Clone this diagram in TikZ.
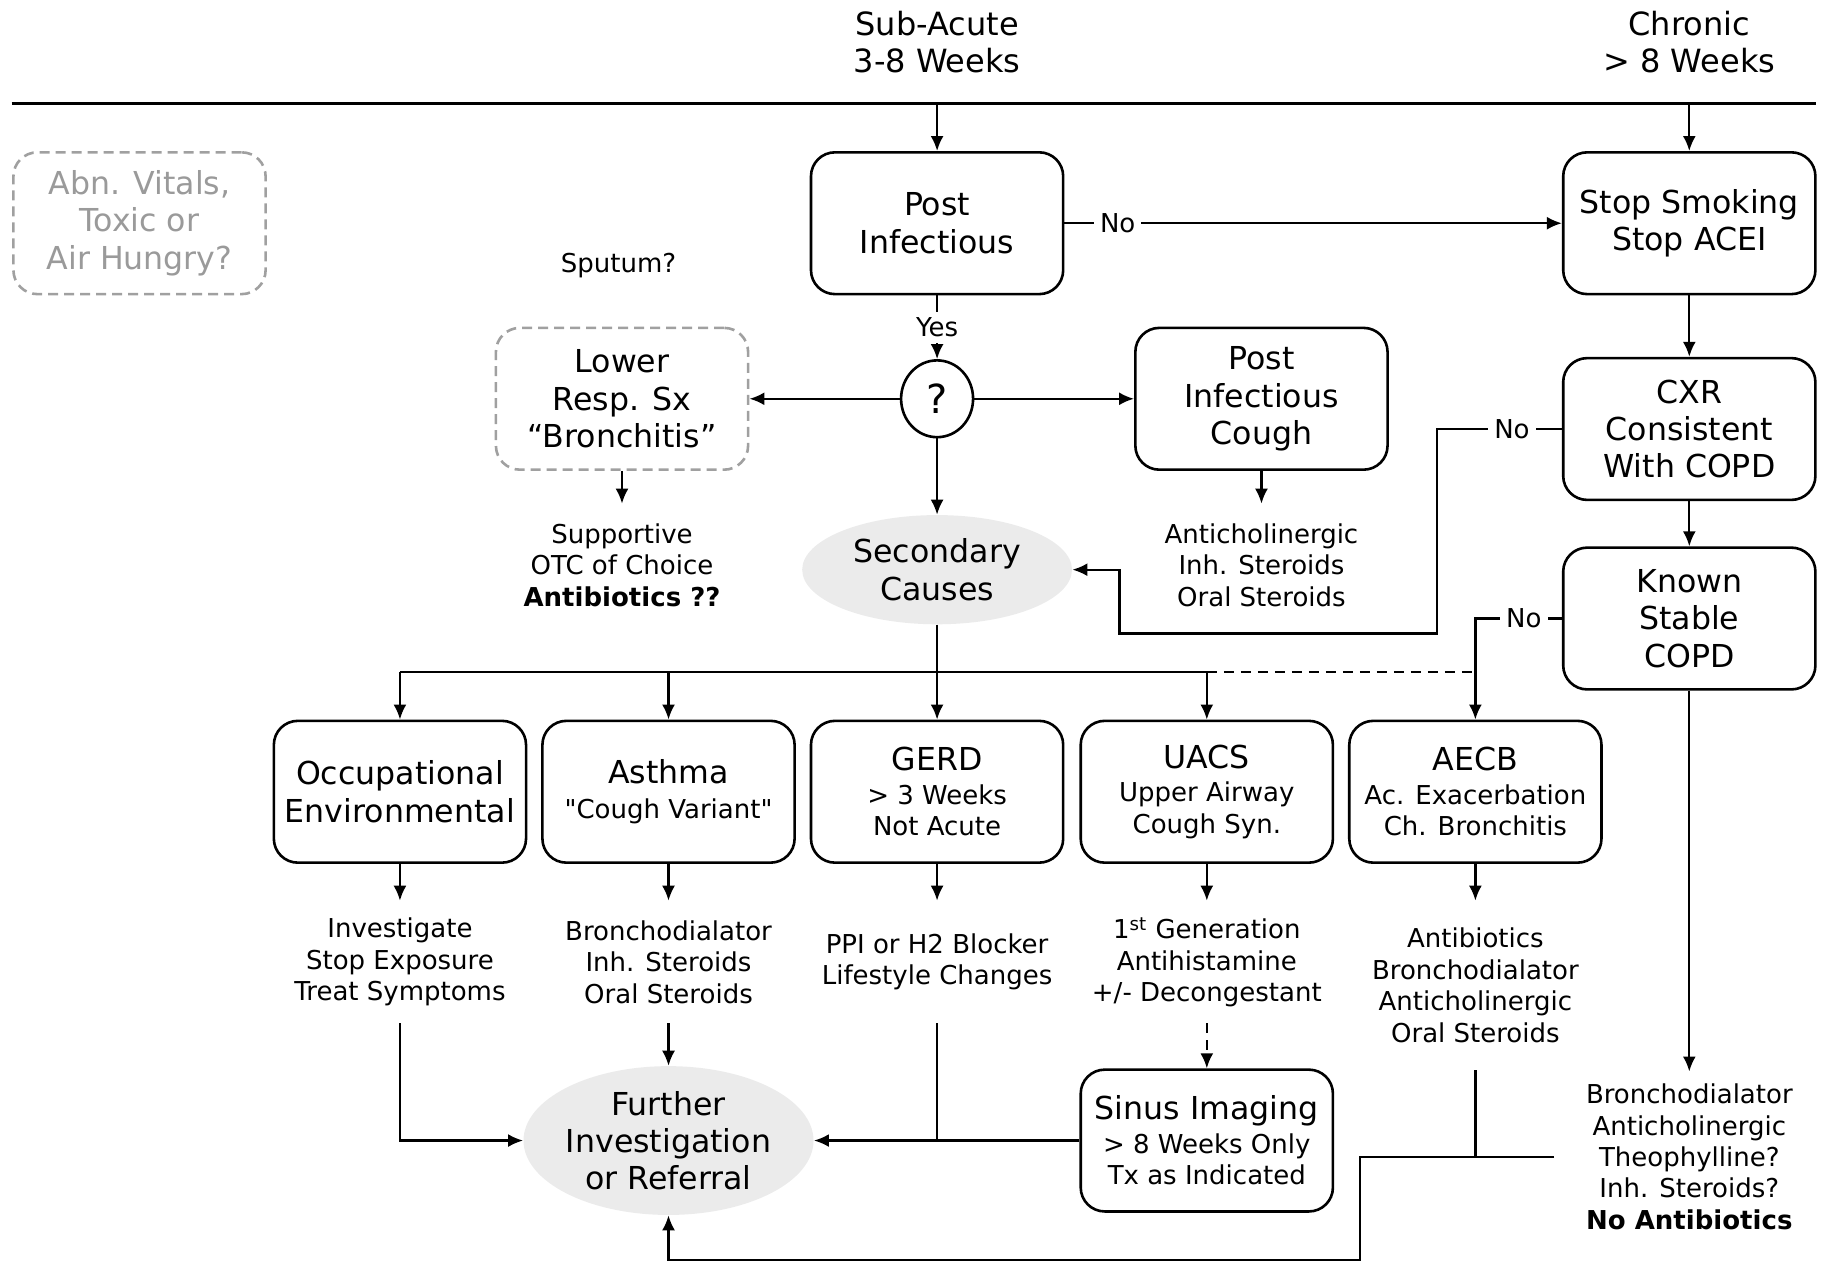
\documentclass[tikz,border=0pt]{standalone}
\usepackage{fontspec}
\setmainfont{DejaVu Sans}
\usetikzlibrary{arrows.meta,shapes.geometric}
\newcommand{\bigfont}{\fontsize{15.8}{18.6}\selectfont}
\newcommand{\smallfont}{\fontsize{13}{15.7}\selectfont}
\newcommand{\headfont}{\fontsize{16}{18.6}\selectfont}
\definecolor{greyline}{HTML}{A0A0A0}
\definecolor{greytext}{HTML}{9A9A9A}
\definecolor{ovalfill}{HTML}{EBEBEB}
\tikzset{
  box/.style={draw, line width=1.3pt, rounded corners=12pt, minimum width=126.1pt,
    minimum height=70.9pt, align=center, font=\bigfont, inner sep=2pt},
  subbox/.style={box, font=\smallfont},
  greybox/.style={box, draw=greyline, dash pattern=on 5pt off 3pt, text=greytext},
  oval/.style={ellipse, fill=ovalfill, inner sep=0pt, align=center, font=\bigfont},
  tx/.style={align=center, font=\smallfont, inner sep=0pt, minimum height=61pt},
  lbl/.style={fill=white, font=\smallfont, inner sep=3pt},
  ln/.style={line width=1.15pt},
  arr/.style={ln, -{Latex[length=7.5pt,width=6.5pt]}},
  dash line/.style={dash pattern=on 5pt off 3.5pt},
}
\begin{document}
\begin{tikzpicture}[x=0.5813pt,y=-0.5813pt]
    \useasboundingbox (0,0) rectangle (1568,1086);

    % header
    \node[align=center, font=\headfont] (subacute) at (806,36) {Sub-Acute\\3-8 Weeks};
    \node[align=center, font=\headfont] (chronic) at (1453,36) {Chronic\\> 8 Weeks};
    \coordinate (hlL) at (10,89);
    \coordinate (hlR) at (1562,89);
    \draw[line width=1.3pt] (hlL) -- (hlR);

    % top part
    \node[greybox] (vitals) at (120,192) {Abn. Vitals,\\Toxic or\\Air Hungry?};
    \node[box] (post) at (806,192) {Post\\Infectious};
    \node[box] (stop) at (1453,192) {Stop Smoking\\Stop ACEI};
    \node[font=\smallfont] (sputum) at (532,228) {Sputum?};
    \node[draw, ellipse, line width=1.3pt, minimum width=36pt, minimum height=38.4pt,
      inner sep=0pt, font=\fontsize{20}{24}\selectfont] (q) at (806,343) {?};
    \node[greybox, text=black] (lower) at (535,343) {Lower\\Resp. Sx\\“Bronchitis”};
    \node[box] (pic) at (1085,343) {Post\\Infectious\\Cough};
    \node[box] (cxr) at (1453,369) {CXR\\Consistent\\With COPD};
    \node[box] (known) at (1453,532) {Known\\Stable\\COPD};
    \node[tx] (supp) at (535,486) {Supportive\\OTC of Choice\\\textbf{Antibiotics ??}};
    \node[tx] (pictx) at (1085,486) {Anticholinergic\\Inh. Steroids\\Oral Steroids};
    \node[oval, minimum width=134.9pt, minimum height=54.6pt] (secondary) at (806,490) {Secondary\\Causes};

    % secondary causes
    \node[box] (occ) at (344,681) {Occupational\\Environmental};
    \node[subbox] (asth) at (575,681) {{\bigfont Asthma}\\[1.6pt]\textquotedbl Cough Variant\textquotedbl};
    \node[subbox] (gerd) at (806,681) {{\bigfont GERD}\\[1.2pt]> 3 Weeks\\Not Acute};
    \node[subbox] (uacs) at (1038,681) {{\bigfont UACS}\\[1.2pt]Upper Airway\\Cough Syn.};
    \node[subbox] (aecb) at (1269,681) {{\bigfont AECB}\\[1.2pt]Ac. Exacerbation\\Ch. Bronchitis};

    \node[tx] (occtx) at (344,827.5) {Investigate\\Stop Exposure\\Treat Symptoms};
    \node[tx] (asthtx) at (575,827.5) {Bronchodialator\\Inh. Steroids\\Oral Steroids};
    \node[tx] (gerdtx) at (806,827.5) {PPI or H2 Blocker\\Lifestyle Changes};
    \node[tx] (uacstx) at (1038,827.5) {1\textsuperscript{st} Generation\\Antihistamine\\+/- Decongestant};
    \node[tx, minimum height=84.3pt] (aecbtx) at (1269,847.5) {Antibiotics\\Bronchodialator\\Anticholinergic\\Oral Steroids};
    \node[tx, minimum height=84.9pt, minimum width=134.9pt] (copdtx) at (1453,995)
      {Bronchodialator\\Anticholinergic\\Theophylline?\\Inh. Steroids?\\\textbf{No Antibiotics}};

    % bottom
    \node[oval, minimum width=141.8pt, minimum height=74.4pt] (further) at (575,981) {Further\\Investigation\\or Referral};
    \node[subbox] (sinus) at (1038,981) {{\bigfont Sinus Imaging}\\[1.2pt]> 8 Weeks Only\\Tx as Indicated};

    \coordinate (cxrbend) at (1236,369);
    \coordinate (loopbend) at (963,545);
    \coordinate (split) at (806,578);
    \coordinate (retbend) at (1170,1084);

    % connectors, top
    \draw[arr] (post.north |- hlL) -- (post.north);
    \draw[arr] (stop.north |- hlL) -- (stop.north);
    \draw[arr] (post.east) -- node[lbl, pos=0.107] {No} (stop.west);
    \draw[arr] (post.south) -- node[lbl] {Yes} (q.north);
    \draw[arr] (q.west) -- (lower.east);
    \draw[arr] (q.east) -- (pic.west);
    \draw[arr] (q.south) -- (secondary.north);
    \draw[arr] (lower.south) -- (supp.north);
    \draw[arr] (pic.south) -- (pictx.north);
    \draw[arr] (stop.south) -- (cxr.north);
    \draw[arr] (cxr.south) -- (known.north);
    \draw[arr] (cxr.west) -- node[lbl, pos=0.4] {No} (cxrbend) |- (loopbend) |- (secondary.east);
    \draw[arr] (known.west) -| node[lbl, pos=0.22] {No} (aecb.north);

    % connectors, secondary causes
    \draw[arr] (secondary.south) -- (gerd.north);
    \draw[ln] (occ.north |- split) -- (uacs.north |- split);
    \draw[ln, dash line] (uacs.north |- split) -- (aecb.north |- split);
    \draw[arr] (occ.north |- split) -- (occ.north);
    \draw[arr] (asth.north |- split) -- (asth.north);
    \draw[arr] (uacs.north |- split) -- (uacs.north);
    \draw[arr] (occ.south) -- (occtx.north);
    \draw[arr] (asth.south) -- (asthtx.north);
    \draw[arr] (gerd.south) -- (gerdtx.north);
    \draw[arr] (uacs.south) -- (uacstx.north);
    \draw[arr] (aecb.south) -- (aecbtx.north);
    \draw[arr] (known.south) -- (copdtx.north);

    % connectors, bottom
    \draw[arr] (occtx.south) |- (further.west);
    \draw[arr] (asthtx.south) -- (further.north);
    \draw[ln] (gerdtx.south) -- (gerdtx.south |- further.east);
    \draw[arr] (sinus.west) -- (further.east);
    \draw[arr, dash line] (uacstx.south) -- (sinus.north);
    \draw[ln] (aecbtx.south) -- (aecbtx.south |- copdtx.west);
    \draw[arr] (copdtx.west) -| (retbend) -| (further.south);
\end{tikzpicture}
\end{document}
